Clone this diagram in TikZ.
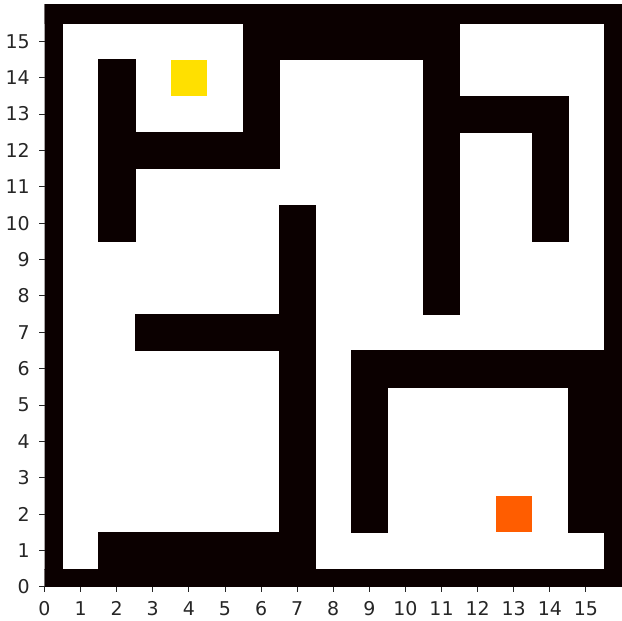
\documentclass[tikz,border=0pt]{standalone}
\usepackage{fontspec}
\setmainfont{DejaVu Sans}
\usepackage{xcolor}
\usepackage{tikz}
\definecolor{wallc}{RGB}{11,0,0}
\definecolor{startc}{RGB}{255,224,0}
\definecolor{goalc}{RGB}{255,93,0}
\definecolor{tickc}{RGB}{38,38,38}

\begin{document}
\begin{tikzpicture}[x=0.722cm, y=0.7275cm,
        wall/.style={fill=wallc, draw=wallc, line width=0.2pt},
        tickmark/.style={draw=tickc, line width=0.5pt},
        ticklab/.style={inner sep=0pt, text=tickc, font=\fontsize{10.8}{12}\selectfont}]
    \useasboundingbox (-1.233,-0.935) rectangle (16,16.137);

    % walls, given as bars of cells (x1/y1/x2/y2)
    \begin{scope}
        \clip (0,0) rectangle (16,16);
        \foreach \xa/\ya/\xb/\yb in {0/0/16/0, 0/16/16/16, 0/0/0/16, 16/0/16/16,
                                     6/15/11/15, 2/10/2/14, 6/12/6/15, 2/12/6/12,
                                     11/8/11/15, 11/13/14/13, 14/10/14/13,
                                     7/1/7/10, 3/7/7/7, 9/6/16/6, 9/2/9/6,
                                     15/2/15/6, 2/1/7/1} {
            \filldraw[wall] (\xa-0.5,\ya-0.5) rectangle (\xb+0.5,\yb+0.5);
        }
    \end{scope}

    % start and goal
    \fill[startc] (3.5,13.5) rectangle (4.5,14.5);
    \fill[goalc] (12.5,1.5) rectangle (13.5,2.5);

    % axes
    \foreach \x in {0,...,15} {
        \draw[tickmark] (\x,0) -- (\x,-0.137);
        \node[ticklab] (xt\x) at (\x,-0.605) {\x};
    }
    \foreach \y in {0,...,15} {
        \draw[tickmark] (0,\y) -- (-0.139,\y);
        \node[ticklab, anchor=east] (yt\y) at (-0.40,\y) {\y};
    }
\end{tikzpicture}
\end{document}
